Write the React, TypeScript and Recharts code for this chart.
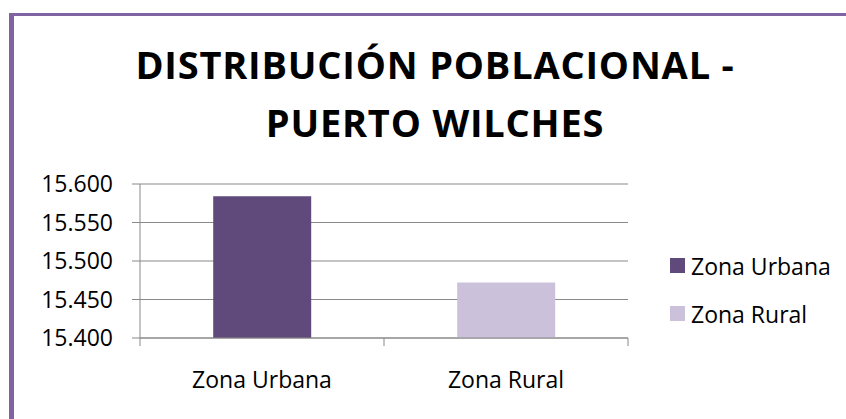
import { Bar, BarChart, CartesianGrid, Cell, XAxis, YAxis } from 'recharts'

const categories = ['Zona Urbana', 'Zona Rural']
const poblacion = [15584, 15472]
const colores = ['#604A7B', '#CCC1DA']
const yTicks = [15400, 15450, 15500, 15550, 15600]
const titleLines = ['DISTRIBUCIÓN POBLACIONAL -', 'PUERTO WILCHES']

const W = 846
const H = 419
const margin = { top: 184, right: 218, bottom: 31, left: 40 }
const yAxisWidth = 100
const font = '"Open Sans", sans-serif'
const gridColor = '#898989'

const data = categories.map((name, i) => ({ name, value: poblacion[i] }))

const fmt = (n: number) => String(n).replace(/\B(?=(\d{3})+(?!\d))/g, '.')

const halfBand = (W - margin.left - margin.right - yAxisWidth) / categories.length / 2

// eslint-disable-next-line @typescript-eslint/no-explicit-any
function XTick(props: any) {
  const { x, y, payload, index } = props
  return (
    <g>
      <text x={x} y={y + 50} textAnchor="middle" fontSize={23} fontFamily={font} fill="#000">
        {payload.value}
      </text>
      <line x1={x - halfBand} y1={y} x2={x - halfBand} y2={y + 8} stroke={gridColor} />
      {index === categories.length - 1 && (
        <line x1={x + halfBand} y1={y} x2={x + halfBand} y2={y + 8} stroke={gridColor} />
      )}
    </g>
  )
}

export default function App() {
  return (
    <div style={{ position: 'absolute', left: 0, top: 0, width: W, height: H, background: '#fff', overflow: 'hidden' }}>
      <div
        style={{
          position: 'absolute',
          left: 9,
          top: 13,
          width: W,
          height: H,
          borderLeft: '5px solid #8064A2',
          borderTop: '3px solid #8064A2',
        }}
      />
      <svg width={W} height={170} style={{ position: 'absolute', left: 0, top: 0 }}>
        {titleLines.map((line, i) => (
          <text
            key={line}
            x={435}
            y={79 + i * 58}
            textAnchor="middle"
            fontFamily={font}
            fontWeight={700}
            fontSize={38}
            letterSpacing={0.8}
            fill="#000"
          >
            {line}
          </text>
        ))}
      </svg>
      <div style={{ position: 'absolute', left: 0, top: 0 }}>
        <BarChart width={W} height={H} data={data} margin={margin} barCategoryGap="30%">
          <CartesianGrid vertical={false} stroke={gridColor} />
          <XAxis
            dataKey="name"
            interval={0}
            height={50}
            tickSize={0}
            tickMargin={0}
            tickLine={false}
            axisLine={{ stroke: gridColor }}
            tick={<XTick />}
          />
          <YAxis
            width={yAxisWidth}
            domain={[15400, 15600]}
            ticks={yTicks}
            tickFormatter={fmt}
            tickSize={8}
            tickMargin={19}
            tickLine={{ stroke: gridColor }}
            axisLine={{ stroke: gridColor }}
            tick={{ fill: '#000', fontSize: 23, fontFamily: font }}
          />
          <Bar dataKey="value" isAnimationActive={false}>
            {data.map((entry, i) => (
              <Cell key={entry.name} fill={colores[i]} />
            ))}
          </Bar>
        </BarChart>
      </div>
      {categories.map((name, i) => (
        <div
          key={name}
          style={{
            position: 'absolute',
            left: 670,
            top: 250 + i * 48,
            height: 31,
            display: 'flex',
            alignItems: 'center',
            fontFamily: font,
            fontSize: 23,
            color: '#000',
            whiteSpace: 'nowrap',
          }}
        >
          <span style={{ width: 15, height: 15, background: colores[i], marginRight: 6, display: 'inline-block' }} />
          {name}
        </div>
      ))}
    </div>
  )
}
